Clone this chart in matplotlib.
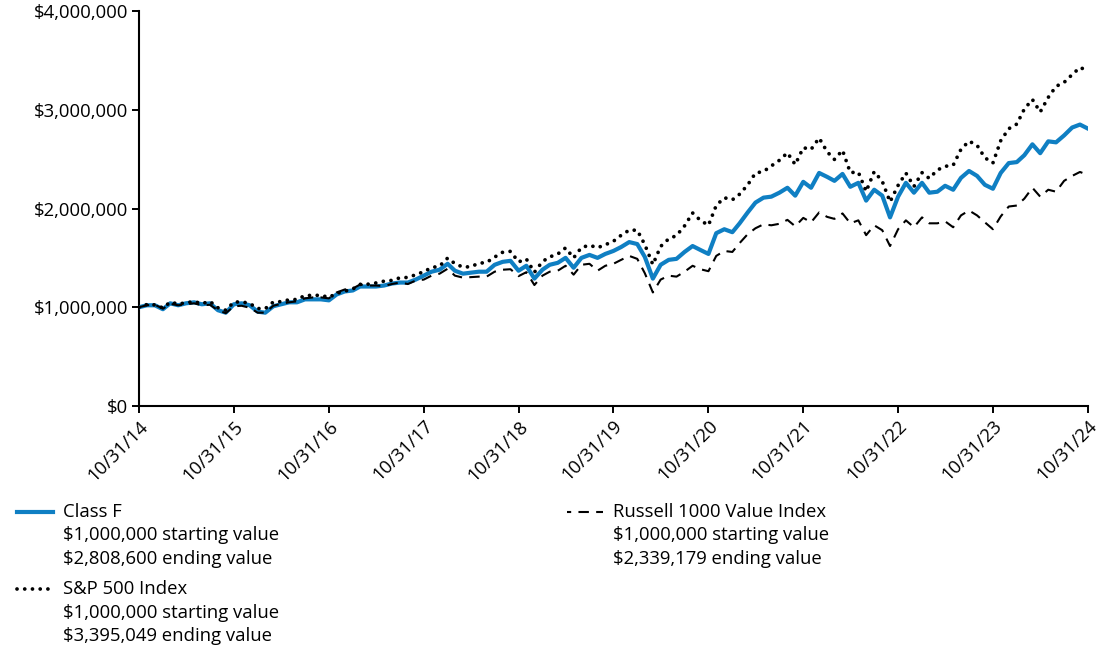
import pandas as pd
import matplotlib
matplotlib.use("Agg")
import matplotlib.pyplot as plt
import matplotlib.dates as mdates
from matplotlib.ticker import FuncFormatter
from matplotlib.lines import Line2D

plt.rcParams['font.family'] = ['Open Sans', 'DejaVu Sans']

# ---------------- data (month-end values, $ millions) ----------------
dates = pd.date_range("2014-10-31", "2024-10-31", freq="ME")

class_f = [
    1.00, 1.02, 1.02, 0.98, 1.04, 1.02, 1.04, 1.05, 1.03, 1.04, 0.97, 0.945,
    1.03, 1.04, 1.02, 0.955, 0.945, 1.01, 1.03, 1.05, 1.05, 1.08, 1.08, 1.08,
    1.07, 1.13, 1.16, 1.17, 1.21, 1.21, 1.21, 1.22, 1.24, 1.25, 1.25, 1.28,
    1.32, 1.36, 1.38, 1.44, 1.37, 1.34, 1.35, 1.36, 1.36, 1.43, 1.46, 1.47,
    1.37, 1.42, 1.29, 1.38, 1.43, 1.45, 1.50, 1.40, 1.50, 1.53, 1.50, 1.54,
    1.57, 1.61, 1.66, 1.64, 1.51, 1.29, 1.43, 1.48, 1.49, 1.56, 1.62, 1.58,
    1.54, 1.75, 1.79, 1.76, 1.85, 1.96, 2.06, 2.11, 2.12, 2.16, 2.21, 2.13,
    2.27, 2.21, 2.36, 2.32, 2.28, 2.35, 2.22, 2.26, 2.08, 2.19, 2.13, 1.91,
    2.12, 2.26, 2.16, 2.26, 2.16, 2.17, 2.23, 2.19, 2.31, 2.38, 2.33, 2.24,
    2.20, 2.36, 2.46, 2.47, 2.54, 2.65, 2.56, 2.68, 2.67, 2.74, 2.82, 2.85,
    2.8086,
]

sp500 = [
    1.000, 1.027, 1.024, 0.994, 1.051, 1.034, 1.044, 1.058, 1.037, 1.059, 0.995, 0.970,
    1.052, 1.055, 1.039, 0.987, 0.986, 1.053, 1.057, 1.076, 1.079, 1.119, 1.120, 1.121,
    1.100, 1.141, 1.163, 1.185, 1.232, 1.234, 1.246, 1.264, 1.272, 1.298, 1.302, 1.329,
    1.360, 1.401, 1.417, 1.498, 1.442, 1.406, 1.411, 1.445, 1.454, 1.508, 1.557, 1.566,
    1.459, 1.489, 1.354, 1.463, 1.510, 1.539, 1.601, 1.500, 1.605, 1.628, 1.603, 1.633,
    1.668, 1.729, 1.781, 1.780, 1.634, 1.432, 1.616, 1.693, 1.726, 1.824, 1.955, 1.880,
    1.830, 2.031, 2.109, 2.088, 2.145, 2.239, 2.359, 2.375, 2.431, 2.488, 2.564, 2.445,
    2.616, 2.598, 2.714, 2.574, 2.497, 2.590, 2.364, 2.368, 2.173, 2.373, 2.276, 2.067,
    2.234, 2.359, 2.223, 2.363, 2.305, 2.390, 2.427, 2.438, 2.599, 2.682, 2.640, 2.514,
    2.461, 2.686, 2.808, 2.855, 3.008, 3.104, 2.977, 3.125, 3.237, 3.277, 3.356, 3.428,
    3.395049,
]

russell_value = [
    1.000, 1.020, 1.026, 0.985, 1.035, 1.020, 1.030, 1.040, 1.020, 1.025, 0.970, 0.940,
    1.010, 1.015, 0.995, 0.945, 0.945, 1.015, 1.035, 1.050, 1.060, 1.090, 1.100, 1.100,
    1.090, 1.150, 1.180, 1.190, 1.230, 1.220, 1.220, 1.215, 1.235, 1.250, 1.235, 1.270,
    1.280, 1.320, 1.340, 1.390, 1.320, 1.300, 1.305, 1.310, 1.310, 1.360, 1.380, 1.385,
    1.315, 1.355, 1.225, 1.320, 1.360, 1.370, 1.420, 1.330, 1.430, 1.440, 1.370, 1.420,
    1.440, 1.480, 1.520, 1.490, 1.345, 1.150, 1.280, 1.320, 1.310, 1.360, 1.420, 1.385,
    1.365, 1.520, 1.570, 1.560, 1.650, 1.740, 1.800, 1.840, 1.830, 1.845, 1.885, 1.820,
    1.905, 1.860, 1.960, 1.915, 1.895, 1.950, 1.850, 1.880, 1.730, 1.830, 1.780, 1.620,
    1.790, 1.880, 1.810, 1.910, 1.850, 1.850, 1.870, 1.810, 1.930, 1.980, 1.930, 1.860,
    1.790, 1.920, 2.020, 2.030, 2.100, 2.210, 2.120, 2.190, 2.170, 2.280, 2.330, 2.370,
    2.339179,
]

series_names = ["Class F", "S&P 500 Index", "Russell 1000 Value Index"]
start_text = "$1,000,000 starting value"
end_texts = ["$2,808,600 ending value", "$3,395,049 ending value", "$2,339,179 ending value"]

BLUE = "#0f7fc3"
FS = 13.3
dot_style = dict(color="black", lw=2.7, linestyle=(0, (0.01, 2.05)), dash_capstyle="round")
dash_style = dict(color="black", lw=1.5, linestyle=(0, (5, 3.5)))

# ---------------- figure ----------------
fig = plt.figure(figsize=(11, 6.53), dpi=100)
ax = fig.add_axes([139 / 1100, 1 - 406 / 653, (1088 - 139) / 1100, (406 - 11) / 653])

scale = 1e6
ax.plot(dates, [v * scale for v in class_f], color=BLUE, lw=3.0, zorder=3)
ax.plot(dates, [v * scale for v in sp500], zorder=4, **dot_style)
ax.plot(dates, [v * scale for v in russell_value], zorder=5, **dash_style)

ax.set_xlim(dates[0], dates[-1])
ax.set_ylim(0, 4e6)
ax.set_yticks([0, 1e6, 2e6, 3e6, 4e6])
ax.yaxis.set_major_formatter(FuncFormatter(lambda v, p: f"${v:,.0f}"))

ax.set_xticks(dates[::12])
ax.xaxis.set_major_formatter(mdates.DateFormatter("%m/%d/%y"))
for lab in ax.get_xticklabels():
    lab.set_rotation(45)
    lab.set_ha("right")
    lab.set_rotation_mode("anchor")

ax.tick_params(axis="both", labelsize=FS, length=5, width=1.4, colors="black", pad=3)
for side in ["top", "right"]:
    ax.spines[side].set_visible(False)
for side in ["left", "bottom"]:
    ax.spines[side].set_linewidth(1.5)

# ---------------- custom legend ----------------
def px(x, y):
    return x / 1100, 1 - y / 653

def legend_block(x_line, y_top, name, end_text, style):
    x0, y0 = px(x_line, y_top)
    x1, _ = px(x_line + 36, y_top)
    fig.add_artist(Line2D([x0, x1], [y0, y0], transform=fig.transFigure, **style))
    tx, _ = px(x_line + 46, 0)
    for k, t in enumerate([name, start_text, end_text]):
        _, ty = px(0, y_top + k * 23.5)
        fig.text(tx, ty, t, fontsize=FS, va="center", ha="left")

legend_block(17, 512, series_names[0], end_texts[0], dict(color=BLUE, lw=3.0))
legend_block(17, 589, series_names[1], end_texts[1], dot_style)
legend_block(567, 512, series_names[2], end_texts[2],
             dict(dash_style, linestyle=(3, (5, 3.5))))

fig.savefig("out.png", dpi=100)
